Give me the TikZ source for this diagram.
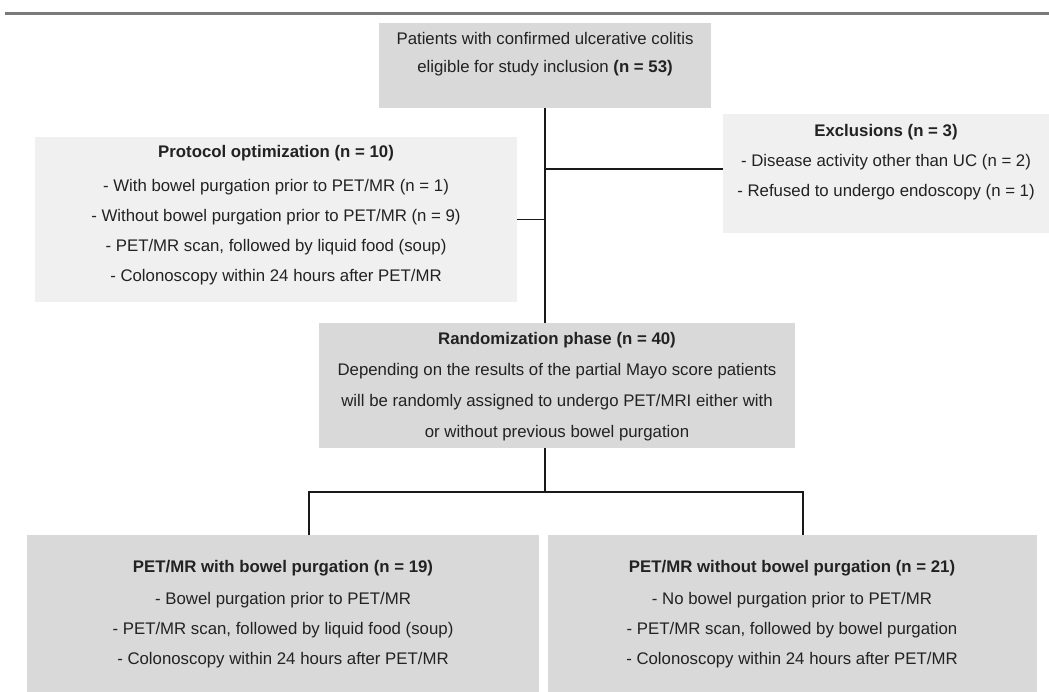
\documentclass[tikz,border=0pt]{standalone}
\usepackage{fontspec}
\setmainfont{Liberation Sans}
\definecolor{boxdark}{HTML}{D9D9D9}
\definecolor{boxlight}{HTML}{F0F0F0}
\definecolor{txt}{HTML}{222222}
\definecolor{rule}{HTML}{7A7A7A}
\begin{document}
\begin{tikzpicture}[x=0.75pt,y=-0.75pt,
  box/.style={draw=none,inner sep=0pt,outer sep=0pt},
  label/.style={align=center,inner sep=0pt,text=txt,
    font=\fontsize{12.6}{22.5}\selectfont},
  conn/.style={draw=black!90,line width=1.4pt}]
\useasboundingbox (0,0) rectangle (1049,692);
\fill[white] (0,0) rectangle (1049,692);
\draw[rule,line width=1.6pt] (5,13.5) -- (1049,13.5);
% boxes
\node[box,fill=boxdark,minimum width=249pt,minimum height=63.75pt] (top) at (545,65.5) {};
\node[box,fill=boxlight,minimum width=361.5pt,minimum height=123.75pt] (prot) at (276,219.5) {};
\node[box,fill=boxlight,minimum width=244.5pt,minimum height=89.25pt] (excl) at (886,173.5) {};
\node[box,fill=boxdark,minimum width=357pt,minimum height=93.75pt] (rand) at (557,385.5) {};
\node[box,fill=boxdark,minimum width=384pt,minimum height=117.75pt] (left) at (283,613.5) {};
\node[box,fill=boxdark,minimum width=366.75pt,minimum height=117.75pt] (right) at (792.5,613.5) {};
% texts
\node[label,font=\fontsize{12.6}{21}\selectfont] (toptxt) at (545,54) {Patients with confirmed ulcerative colitis\\eligible for study inclusion \textbf{(n = 53)}};
\node[label] (prottxt) at (276,215) {\textbf{Protocol optimization (n = 10)}\\[3pt]- With bowel purgation prior to PET/MR (n = 1)\\- Without bowel purgation prior to PET/MR (n = 9)\\- PET/MR scan, followed by liquid food (soup)\\- Colonoscopy within 24 hours after PET/MR};
\node[label] (excltxt) at (886,162.5) {\textbf{Exclusions (n = 3)}\\- Disease activity other than UC (n = 2)\\- Refused to undergo endoscopy (n = 1)};
\node[label,font=\fontsize{12.6}{23.25}\selectfont] (randtxt) at (557,387) {\textbf{Randomization phase (n = 40)}\\Depending on the results of the partial Mayo score patients\\will be randomly assigned to undergo PET/MRI either with\\or without previous bowel purgation};
\node[label] (lefttxt) at (283,614) {\textbf{PET/MR with bowel purgation (n = 19)}\\[1.5pt]- Bowel purgation prior to PET/MR\\- PET/MR scan, followed by liquid food (soup)\\- Colonoscopy within 24 hours after PET/MR};
\node[label] (righttxt) at (792,614) {\textbf{PET/MR without bowel purgation (n = 21)}\\[1.5pt]- No bowel purgation prior to PET/MR\\- PET/MR scan, followed by bowel purgation\\- Colonoscopy within 24 hours after PET/MR};
% connectors
\draw[conn] (top.south) -- (top.south |- rand.north);
\coordinate (jr) at (545,169);
\draw[conn] (jr) -- (jr -| excl.west);
\draw[conn] (prot.east) -- (prot.east -| top.south);
\coordinate (rs) at (545,492);
\coordinate (bl) at (309,492);
\coordinate (br) at (803,492);
\draw[conn] (rs |- rand.south) -- (rs);
\draw[conn] (bl |- left.north) -- (bl) -- (br) -- (br |- right.north);
\end{tikzpicture}
\end{document}
